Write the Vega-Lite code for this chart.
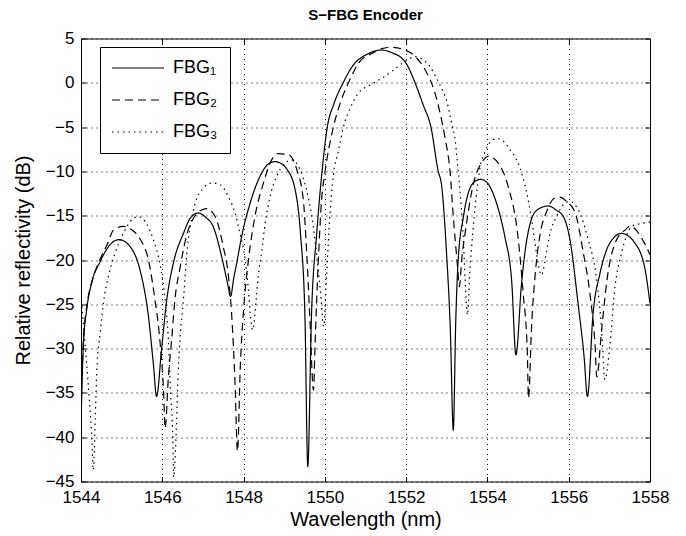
{
  "$schema": "https://vega.github.io/schema/vega-lite/v6.json",
  "autosize": "none",
  "width": 569,
  "height": 443,
  "padding": {"left": 81, "top": 38.5, "right": 36, "bottom": 54.5},
  "background": "white",
  "title": {"text": "S−FBG Encoder", "font": "Liberation Sans", "fontSize": 15, "fontWeight": "bold", "color": "black", "offset": 7},
  "config": {
    "view": {"stroke": "black", "strokeWidth": 1},
    "axis": {"labelFont": "Liberation Sans", "titleFont": "Liberation Sans", "labelColor": "black", "titleColor": "black", "labelFontSize": 17, "titleFontSize": 20, "titleFontWeight": "normal"}
  },
  "data": {"values": [
    {"s":"FBG₁","x":1544.00,"y":-38.5},{"s":"FBG₁","x":1544.06,"y":-29.4},{"s":"FBG₁","x":1544.14,"y":-25.6},{"s":"FBG₁","x":1544.26,"y":-22.6},{"s":"FBG₁","x":1544.47,"y":-20.2},{"s":"FBG₁","x":1544.71,"y":-18.3},{"s":"FBG₁","x":1544.94,"y":-17.7},{"s":"FBG₁","x":1545.21,"y":-18.5},{"s":"FBG₁","x":1545.45,"y":-21.1},{"s":"FBG₁","x":1545.66,"y":-26.4},{"s":"FBG₁","x":1545.78,"y":-31.7},{"s":"FBG₁","x":1545.86,"y":-35.4},{"s":"FBG₁","x":1545.98,"y":-30.2},{"s":"FBG₁","x":1546.11,"y":-24.5},{"s":"FBG₁","x":1546.27,"y":-20.4},{"s":"FBG₁","x":1546.52,"y":-17.0},{"s":"FBG₁","x":1546.70,"y":-15.2},{"s":"FBG₁","x":1546.89,"y":-14.7},{"s":"FBG₁","x":1547.07,"y":-15.2},{"s":"FBG₁","x":1547.25,"y":-16.2},{"s":"FBG₁","x":1547.46,"y":-19.6},{"s":"FBG₁","x":1547.60,"y":-22.5},{"s":"FBG₁","x":1547.68,"y":-24.1},{"s":"FBG₁","x":1547.76,"y":-22.0},{"s":"FBG₁","x":1547.83,"y":-20.4},{"s":"FBG₁","x":1547.95,"y":-17.4},{"s":"FBG₁","x":1548.16,"y":-13.6},{"s":"FBG₁","x":1548.40,"y":-10.6},{"s":"FBG₁","x":1548.60,"y":-9.2},{"s":"FBG₁","x":1548.77,"y":-8.9},{"s":"FBG₁","x":1548.92,"y":-9.1},{"s":"FBG₁","x":1549.06,"y":-9.7},{"s":"FBG₁","x":1549.27,"y":-12.1},{"s":"FBG₁","x":1549.40,"y":-17.0},{"s":"FBG₁","x":1549.51,"y":-26.4},{"s":"FBG₁","x":1549.58,"y":-43.3},{"s":"FBG₁","x":1549.67,"y":-26.4},{"s":"FBG₁","x":1549.80,"y":-17.0},{"s":"FBG₁","x":1549.92,"y":-10.5},{"s":"FBG₁","x":1550.06,"y":-5.0},{"s":"FBG₁","x":1550.22,"y":-2.4},{"s":"FBG₁","x":1550.45,"y":0.0},{"s":"FBG₁","x":1550.70,"y":2.0},{"s":"FBG₁","x":1551.03,"y":3.2},{"s":"FBG₁","x":1551.40,"y":3.7},{"s":"FBG₁","x":1551.70,"y":3.3},{"s":"FBG₁","x":1551.85,"y":2.95},{"s":"FBG₁","x":1552.00,"y":2.2},{"s":"FBG₁","x":1552.22,"y":0.0},{"s":"FBG₁","x":1552.42,"y":-2.5},{"s":"FBG₁","x":1552.61,"y":-5.0},{"s":"FBG₁","x":1552.79,"y":-10.0},{"s":"FBG₁","x":1552.87,"y":-11.5},{"s":"FBG₁","x":1552.99,"y":-18.9},{"s":"FBG₁","x":1553.09,"y":-28.3},{"s":"FBG₁","x":1553.16,"y":-39.2},{"s":"FBG₁","x":1553.22,"y":-27.0},{"s":"FBG₁","x":1553.28,"y":-20.0},{"s":"FBG₁","x":1553.41,"y":-15.1},{"s":"FBG₁","x":1553.65,"y":-11.3},{"s":"FBG₁","x":1553.83,"y":-10.9},{"s":"FBG₁","x":1554.00,"y":-11.3},{"s":"FBG₁","x":1554.14,"y":-12.5},{"s":"FBG₁","x":1554.30,"y":-14.8},{"s":"FBG₁","x":1554.43,"y":-17.4},{"s":"FBG₁","x":1554.60,"y":-22.6},{"s":"FBG₁","x":1554.70,"y":-30.7},{"s":"FBG₁","x":1554.84,"y":-22.6},{"s":"FBG₁","x":1554.98,"y":-17.4},{"s":"FBG₁","x":1555.21,"y":-14.4},{"s":"FBG₁","x":1555.50,"y":-13.9},{"s":"FBG₁","x":1555.70,"y":-14.4},{"s":"FBG₁","x":1555.87,"y":-15.1},{"s":"FBG₁","x":1556.03,"y":-17.7},{"s":"FBG₁","x":1556.24,"y":-25.3},{"s":"FBG₁","x":1556.38,"y":-31.0},{"s":"FBG₁","x":1556.46,"y":-35.4},{"s":"FBG₁","x":1556.60,"y":-26.0},{"s":"FBG₁","x":1556.77,"y":-21.5},{"s":"FBG₁","x":1557.01,"y":-18.1},{"s":"FBG₁","x":1557.30,"y":-17.0},{"s":"FBG₁","x":1557.63,"y":-18.1},{"s":"FBG₁","x":1557.88,"y":-21.1},{"s":"FBG₁","x":1558.00,"y":-24.9},
    {"s":"FBG₂","x":1544.00,"y":-36.0},{"s":"FBG₂","x":1544.06,"y":-29.0},{"s":"FBG₂","x":1544.15,"y":-25.0},{"s":"FBG₂","x":1544.30,"y":-22.0},{"s":"FBG₂","x":1544.50,"y":-19.6},{"s":"FBG₂","x":1544.65,"y":-18.2},{"s":"FBG₂","x":1544.80,"y":-16.6},{"s":"FBG₂","x":1545.04,"y":-16.2},{"s":"FBG₂","x":1545.25,"y":-16.6},{"s":"FBG₂","x":1545.45,"y":-17.6},{"s":"FBG₂","x":1545.66,"y":-20.0},{"s":"FBG₂","x":1545.82,"y":-24.5},{"s":"FBG₂","x":1545.94,"y":-29.0},{"s":"FBG₂","x":1546.03,"y":-34.7},{"s":"FBG₂","x":1546.07,"y":-39.0},{"s":"FBG₂","x":1546.15,"y":-33.2},{"s":"FBG₂","x":1546.23,"y":-29.0},{"s":"FBG₂","x":1546.31,"y":-24.5},{"s":"FBG₂","x":1546.44,"y":-20.8},{"s":"FBG₂","x":1546.60,"y":-17.2},{"s":"FBG₂","x":1546.81,"y":-15.0},{"s":"FBG₂","x":1547.00,"y":-14.3},{"s":"FBG₂","x":1547.09,"y":-14.2},{"s":"FBG₂","x":1547.30,"y":-15.1},{"s":"FBG₂","x":1547.50,"y":-18.5},{"s":"FBG₂","x":1547.63,"y":-21.9},{"s":"FBG₂","x":1547.71,"y":-26.4},{"s":"FBG₂","x":1547.79,"y":-33.9},{"s":"FBG₂","x":1547.85,"y":-41.6},{"s":"FBG₂","x":1547.92,"y":-32.0},{"s":"FBG₂","x":1548.00,"y":-25.6},{"s":"FBG₂","x":1548.12,"y":-20.0},{"s":"FBG₂","x":1548.28,"y":-15.1},{"s":"FBG₂","x":1548.49,"y":-11.3},{"s":"FBG₂","x":1548.69,"y":-8.7},{"s":"FBG₂","x":1548.85,"y":-8.0},{"s":"FBG₂","x":1549.10,"y":-8.1},{"s":"FBG₂","x":1549.31,"y":-9.8},{"s":"FBG₂","x":1549.47,"y":-13.2},{"s":"FBG₂","x":1549.55,"y":-18.9},{"s":"FBG₂","x":1549.63,"y":-26.4},{"s":"FBG₂","x":1549.72,"y":-34.7},{"s":"FBG₂","x":1549.76,"y":-29.4},{"s":"FBG₂","x":1549.84,"y":-20.0},{"s":"FBG₂","x":1549.92,"y":-13.2},{"s":"FBG₂","x":1550.00,"y":-10.2},{"s":"FBG₂","x":1550.21,"y":-5.0},{"s":"FBG₂","x":1550.40,"y":-2.0},{"s":"FBG₂","x":1550.58,"y":0.0},{"s":"FBG₂","x":1550.86,"y":2.4},{"s":"FBG₂","x":1551.15,"y":3.3},{"s":"FBG₂","x":1551.44,"y":3.9},{"s":"FBG₂","x":1551.64,"y":4.0},{"s":"FBG₂","x":1551.97,"y":3.7},{"s":"FBG₂","x":1552.26,"y":2.8},{"s":"FBG₂","x":1552.51,"y":1.1},{"s":"FBG₂","x":1552.67,"y":-0.6},{"s":"FBG₂","x":1552.83,"y":-3.3},{"s":"FBG₂","x":1552.96,"y":-6.3},{"s":"FBG₂","x":1553.08,"y":-10.0},{"s":"FBG₂","x":1553.16,"y":-15.1},{"s":"FBG₂","x":1553.26,"y":-20.5},{"s":"FBG₂","x":1553.31,"y":-23.0},{"s":"FBG₂","x":1553.37,"y":-19.8},{"s":"FBG₂","x":1553.45,"y":-17.0},{"s":"FBG₂","x":1553.66,"y":-11.3},{"s":"FBG₂","x":1553.86,"y":-9.0},{"s":"FBG₂","x":1554.02,"y":-8.3},{"s":"FBG₂","x":1554.27,"y":-9.1},{"s":"FBG₂","x":1554.51,"y":-11.7},{"s":"FBG₂","x":1554.76,"y":-17.7},{"s":"FBG₂","x":1554.88,"y":-23.8},{"s":"FBG₂","x":1554.98,"y":-30.2},{"s":"FBG₂","x":1555.01,"y":-35.6},{"s":"FBG₂","x":1555.09,"y":-27.1},{"s":"FBG₂","x":1555.17,"y":-21.9},{"s":"FBG₂","x":1555.30,"y":-17.0},{"s":"FBG₂","x":1555.46,"y":-14.5},{"s":"FBG₂","x":1555.66,"y":-13.0},{"s":"FBG₂","x":1555.78,"y":-12.9},{"s":"FBG₂","x":1555.95,"y":-13.4},{"s":"FBG₂","x":1556.16,"y":-14.7},{"s":"FBG₂","x":1556.36,"y":-19.2},{"s":"FBG₂","x":1556.53,"y":-24.1},{"s":"FBG₂","x":1556.65,"y":-29.8},{"s":"FBG₂","x":1556.69,"y":-33.2},{"s":"FBG₂","x":1556.81,"y":-27.9},{"s":"FBG₂","x":1556.94,"y":-22.3},{"s":"FBG₂","x":1557.14,"y":-18.1},{"s":"FBG₂","x":1557.39,"y":-16.6},{"s":"FBG₂","x":1557.51,"y":-16.2},{"s":"FBG₂","x":1557.84,"y":-17.9},{"s":"FBG₂","x":1558.00,"y":-19.4},
    {"s":"FBG₃","x":1544.00,"y":-24.0},{"s":"FBG₃","x":1544.10,"y":-29.5},{"s":"FBG₃","x":1544.20,"y":-35.5},{"s":"FBG₃","x":1544.27,"y":-40.5},{"s":"FBG₃","x":1544.30,"y":-43.7},{"s":"FBG₃","x":1544.35,"y":-38.0},{"s":"FBG₃","x":1544.39,"y":-32.4},{"s":"FBG₃","x":1544.47,"y":-28.3},{"s":"FBG₃","x":1544.55,"y":-24.9},{"s":"FBG₃","x":1544.67,"y":-21.9},{"s":"FBG₃","x":1544.84,"y":-19.2},{"s":"FBG₃","x":1545.04,"y":-17.0},{"s":"FBG₃","x":1545.29,"y":-15.3},{"s":"FBG₃","x":1545.41,"y":-15.1},{"s":"FBG₃","x":1545.61,"y":-15.9},{"s":"FBG₃","x":1545.78,"y":-17.7},{"s":"FBG₃","x":1545.94,"y":-20.4},{"s":"FBG₃","x":1546.07,"y":-24.5},{"s":"FBG₃","x":1546.15,"y":-29.0},{"s":"FBG₃","x":1546.20,"y":-34.7},{"s":"FBG₃","x":1546.26,"y":-40.3},{"s":"FBG₃","x":1546.28,"y":-44.5},{"s":"FBG₃","x":1546.35,"y":-38.4},{"s":"FBG₃","x":1546.39,"y":-32.8},{"s":"FBG₃","x":1546.44,"y":-28.7},{"s":"FBG₃","x":1546.52,"y":-24.5},{"s":"FBG₃","x":1546.60,"y":-19.5},{"s":"FBG₃","x":1546.76,"y":-14.5},{"s":"FBG₃","x":1546.97,"y":-12.1},{"s":"FBG₃","x":1547.22,"y":-11.3},{"s":"FBG₃","x":1547.42,"y":-11.5},{"s":"FBG₃","x":1547.63,"y":-12.9},{"s":"FBG₃","x":1547.79,"y":-14.7},{"s":"FBG₃","x":1547.91,"y":-17.0},{"s":"FBG₃","x":1548.04,"y":-20.0},{"s":"FBG₃","x":1548.12,"y":-23.4},{"s":"FBG₃","x":1548.17,"y":-26.4},{"s":"FBG₃","x":1548.22,"y":-27.9},{"s":"FBG₃","x":1548.31,"y":-24.5},{"s":"FBG₃","x":1548.36,"y":-21.9},{"s":"FBG₃","x":1548.45,"y":-18.9},{"s":"FBG₃","x":1548.53,"y":-15.9},{"s":"FBG₃","x":1548.65,"y":-12.9},{"s":"FBG₃","x":1548.81,"y":-10.6},{"s":"FBG₃","x":1549.02,"y":-9.1},{"s":"FBG₃","x":1549.18,"y":-8.7},{"s":"FBG₃","x":1549.39,"y":-9.8},{"s":"FBG₃","x":1549.55,"y":-12.1},{"s":"FBG₃","x":1549.68,"y":-15.1},{"s":"FBG₃","x":1549.80,"y":-19.5},{"s":"FBG₃","x":1549.90,"y":-24.0},{"s":"FBG₃","x":1549.97,"y":-27.5},{"s":"FBG₃","x":1550.04,"y":-22.0},{"s":"FBG₃","x":1550.11,"y":-16.0},{"s":"FBG₃","x":1550.21,"y":-10.4},{"s":"FBG₃","x":1550.33,"y":-7.8},{"s":"FBG₃","x":1550.45,"y":-5.1},{"s":"FBG₃","x":1550.62,"y":-2.9},{"s":"FBG₃","x":1550.82,"y":-1.2},{"s":"FBG₃","x":1551.11,"y":-0.25},{"s":"FBG₃","x":1551.40,"y":0.5},{"s":"FBG₃","x":1551.68,"y":1.4},{"s":"FBG₃","x":1552.00,"y":2.5},{"s":"FBG₃","x":1552.22,"y":2.95},{"s":"FBG₃","x":1552.34,"y":2.8},{"s":"FBG₃","x":1552.59,"y":1.8},{"s":"FBG₃","x":1552.75,"y":0.5},{"s":"FBG₃","x":1552.87,"y":-0.6},{"s":"FBG₃","x":1553.00,"y":-2.1},{"s":"FBG₃","x":1553.13,"y":-4.8},{"s":"FBG₃","x":1553.21,"y":-6.6},{"s":"FBG₃","x":1553.25,"y":-8.5},{"s":"FBG₃","x":1553.29,"y":-10.4},{"s":"FBG₃","x":1553.33,"y":-12.5},{"s":"FBG₃","x":1553.40,"y":-17.0},{"s":"FBG₃","x":1553.45,"y":-22.0},{"s":"FBG₃","x":1553.51,"y":-26.2},{"s":"FBG₃","x":1553.57,"y":-21.0},{"s":"FBG₃","x":1553.63,"y":-17.5},{"s":"FBG₃","x":1553.72,"y":-13.0},{"s":"FBG₃","x":1553.82,"y":-9.5},{"s":"FBG₃","x":1553.94,"y":-7.8},{"s":"FBG₃","x":1554.05,"y":-6.8},{"s":"FBG₃","x":1554.23,"y":-6.3},{"s":"FBG₃","x":1554.39,"y":-6.6},{"s":"FBG₃","x":1554.56,"y":-7.6},{"s":"FBG₃","x":1554.72,"y":-8.7},{"s":"FBG₃","x":1554.88,"y":-10.8},{"s":"FBG₃","x":1554.97,"y":-12.5},{"s":"FBG₃","x":1555.09,"y":-15.5},{"s":"FBG₃","x":1555.20,"y":-19.0},{"s":"FBG₃","x":1555.33,"y":-21.7},{"s":"FBG₃","x":1555.46,"y":-18.9},{"s":"FBG₃","x":1555.54,"y":-17.0},{"s":"FBG₃","x":1555.70,"y":-15.1},{"s":"FBG₃","x":1555.90,"y":-13.6},{"s":"FBG₃","x":1556.02,"y":-13.4},{"s":"FBG₃","x":1556.24,"y":-14.4},{"s":"FBG₃","x":1556.48,"y":-17.7},{"s":"FBG₃","x":1556.69,"y":-22.3},{"s":"FBG₃","x":1556.81,"y":-27.9},{"s":"FBG₃","x":1556.89,"y":-33.5},{"s":"FBG₃","x":1557.01,"y":-29.8},{"s":"FBG₃","x":1557.14,"y":-23.0},{"s":"FBG₃","x":1557.30,"y":-19.2},{"s":"FBG₃","x":1557.55,"y":-16.2},{"s":"FBG₃","x":1557.75,"y":-15.9},{"s":"FBG₃","x":1558.00,"y":-15.7}
  ]},
  "layer": [
    {
      "mark": {"type": "line", "interpolate": "monotone", "color": "black", "strokeWidth": 1.2, "clip": true},
      "encoding": {
        "x": {"field": "x", "type": "quantitative", "scale": {"domain": [1544, 1558], "nice": false, "zero": false},
          "axis": {"title": "Wavelength (nm)", "values": [1544,1546,1548,1550,1552,1554,1556,1558], "format": "d", "grid": true, "gridColor": "black", "gridDash": [1,4], "gridOpacity": 1, "gridWidth": 1, "domain": false, "tickColor": "black", "tickSize": -5, "labelPadding": 13, "titlePadding": 4, "labelFlush": false}},
        "y": {"field": "y", "type": "quantitative", "scale": {"domain": [-45, 5], "nice": false, "zero": false},
          "axis": {"title": "Relative reflectivity (dB)", "values": [-45,-40,-35,-30,-25,-20,-15,-10,-5,0,5], "grid": true, "gridColor": "black", "gridDash": [1,4], "gridOpacity": 1, "gridWidth": 1, "domain": false, "tickColor": "black", "tickSize": -5, "labelPadding": 12, "titlePadding": 12, "labelFlush": false}},
        "strokeDash": {"field": "s", "type": "nominal", "scale": {"domain": ["FBG₁","FBG₂","FBG₃"], "range": [[1,0],[8,5],[1.5,4]]},
          "legend": {"title": null, "orient": "none", "legendX": 19, "legendY": 8.5, "fillColor": "white", "strokeColor": "black", "padding": 12, "symbolType": "M-26,0H26", "symbolSize": 4, "symbolOffset": 17, "symbolStrokeColor": "black", "symbolStrokeWidth": 1.2, "labelFont": "Liberation Sans", "labelFontSize": 18, "labelColor": "black", "rowPadding": 14, "labelOffset": 26}}
      }
    },
    {
      "mark": {"type": "point", "opacity": 0},
      "encoding": {
        "x": {"field": "x", "type": "quantitative", "axis": {"orient": "top", "values": [1544,1546,1548,1550,1552,1554,1556,1558], "labels": false, "title": null, "grid": false, "domain": false, "tickColor": "black", "tickSize": -5}},
        "y": {"field": "y", "type": "quantitative", "axis": {"orient": "right", "values": [-45,-40,-35,-30,-25,-20,-15,-10,-5,0,5], "labels": false, "title": null, "grid": false, "domain": false, "tickColor": "black", "tickSize": -5}}
      }
    }
  ],
  "resolve": {"axis": {"x": "independent", "y": "independent"}}
}
